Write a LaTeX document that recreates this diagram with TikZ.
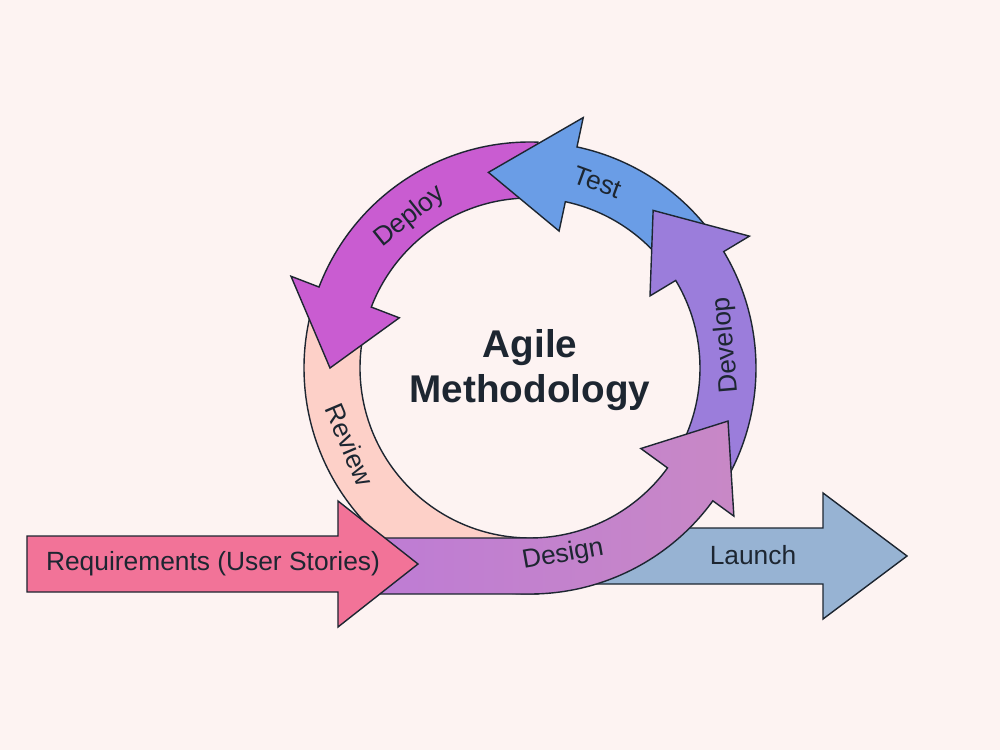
\documentclass[tikz,border=0pt]{standalone}
\usepackage{fontspec}
\setmainfont{Liberation Sans}
\usepackage{tikz}
\usetikzlibrary{positioning,calc}
\definecolor{bg}{RGB}{253,243,242}
\definecolor{ink}{RGB}{29,38,49}
\definecolor{reqpink}{RGB}{242,115,152}
\definecolor{revpeach}{RGB}{253,208,200}
\definecolor{deploymag}{RGB}{201,92,209}
\definecolor{testblue}{RGB}{106,157,230}
\definecolor{devpurple}{RGB}{155,125,219}
\definecolor{designleft}{RGB}{190,124,212}
\definecolor{designright}{RGB}{200,136,198}
\definecolor{launchblue}{RGB}{151,179,211}

\tikzset{
  band/.style={draw=ink,line width=0.8pt},
  lbl/.style={font=\fontsize{15}{18}\selectfont,text=ink,inner sep=0pt},
}

\begin{document}
\begin{tikzpicture}[x=0.02cm,y=0.02cm]
  \def\rin{170}\def\rout{226}
  \fill[bg] (-530,-382) rectangle (470,368);
  \useasboundingbox (-530,-382) rectangle (470,368);
  % review band, no head
  \filldraw[band,fill=revpeach] (166:\rin) arc[start angle=166,end angle=272,radius=\rin]
    -- (272:\rout) arc[start angle=272,end angle=166,radius=\rout] -- cycle;
  % ring arrows: tail/head base/tip/colour
  \foreach \t/\b/\p/\c in {88/159/180/deploymag,38/78/102/testblue,-30/31/52/devpurple}
    \filldraw[band,fill=\c] (\t:\rin) arc[start angle=\t,end angle=\b,radius=\rin]
      -- (\b:140) -- (\p:200) -- (\b:256) -- (\b:\rout)
      arc[start angle=\b,end angle=\t,radius=\rout] -- cycle;
  % launch
  \filldraw[band,fill=launchblue] (60,-160) -- (293,-160) -- (293,-125) -- (377,-188)
    -- (293,-251) -- (293,-216) -- (60,-216) -- cycle;
  % design
  \path[band,left color=designleft,right color=designright] (-150,-\rin) -- (0,-\rin)
    arc[start angle=270,end angle=324,radius=\rin] -- (324:137) -- (345:205) -- (324:252)
    -- (324:\rout) arc[start angle=324,end angle=270,radius=\rout] -- (-150,-\rout) -- cycle;
  % requirements
  \filldraw[band,fill=reqpink] (-503,-168) -- (-192,-168) -- (-192,-133) -- (-112,-196)
    -- (-192,-259) -- (-192,-224) -- (-503,-224) -- cycle;

  \node[lbl] (req) at (-317,-196) {Requirements (User Stories)};
  \node[lbl] (launch) at (223,-187) {Launch};
  \node[lbl,rotate=10] (design) at (-80:190) {Design};
  \node[lbl,rotate=-67] (review) at (203:196) {Review};
  \node[lbl,rotate=38.5] (deploy) at (128.5:193) {Deploy};
  \node[lbl,rotate=-20] (test) at (70:198) {Test};
  \node[lbl,rotate=95] (develop) at (6.6:198) {Develop};
  \node[font=\bfseries\fontsize{22}{25.6}\selectfont,text=ink,align=center] (title) at (0,-2) {Agile\\Methodology};
\end{tikzpicture}
\end{document}
